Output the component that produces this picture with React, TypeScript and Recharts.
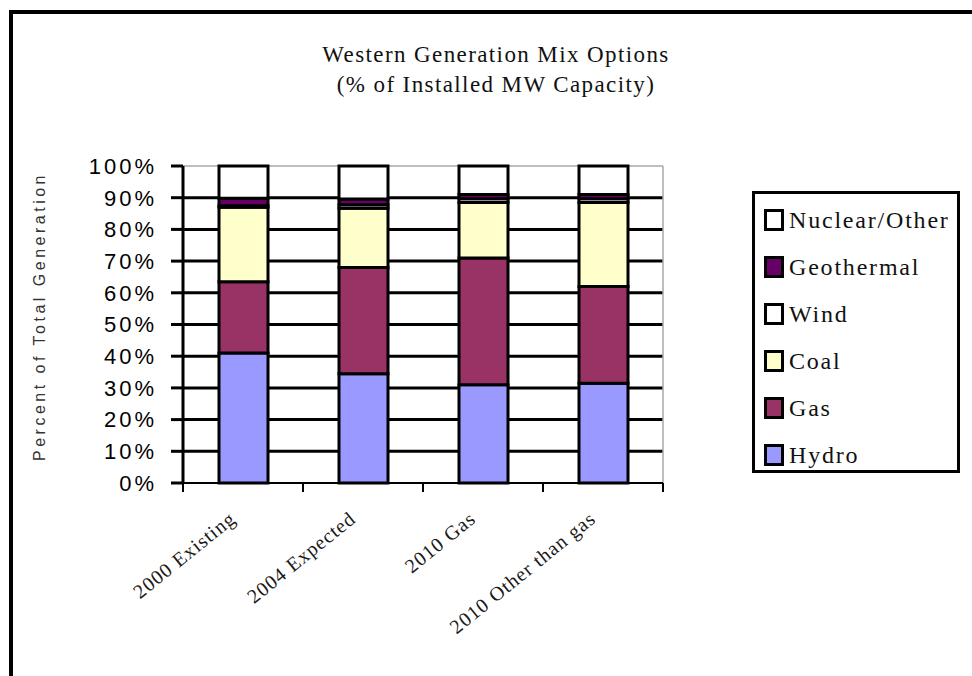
import React from 'react';
import { BarChart, Bar, XAxis, YAxis, CartesianGrid, Legend, Label } from 'recharts';

// Scenario categories along the x axis
const categories = ['2000 Existing', '2004 Expected', '2010 Gas', '2010 Other than gas'];

// Share of installed MW capacity (%) per resource, stacked bottom to top
const hydro = [41, 34.5, 31, 31.5];
const gas = [22.5, 33.5, 40, 30.5];
const coal = [23.5, 18.7, 17.5, 26.5];
const wind = [0.5, 1.1, 1.2, 1.2];
const geothermal = [2.3, 1.8, 1.3, 1.3];
const nuclearOther = [10.2, 10.4, 9, 9];

const yTicks = [0, 10, 20, 30, 40, 50, 60, 70, 80, 90, 100];
const gridValues = [10, 20, 30, 40, 50, 60, 70, 80, 90];

const series = [
  { key: 'hydro', name: 'Hydro', color: '#9999FF', values: hydro },
  { key: 'gas', name: 'Gas', color: '#993366', values: gas },
  { key: 'coal', name: 'Coal', color: '#FFFFCC', values: coal },
  { key: 'wind', name: 'Wind', color: '#FFFFFF', values: wind },
  { key: 'geothermal', name: 'Geothermal', color: '#660066', values: geothermal },
  { key: 'nuclear', name: 'Nuclear/Other', color: '#FFFFFF', values: nuclearOther },
];

const data = categories.map((category, i) => {
  const row: Record<string, string | number> = { category };
  series.forEach((s) => {
    row[s.key] = s.values[i];
  });
  return row;
});

const SERIF = '"Liberation Serif", "Times New Roman", serif';
const SANS = '"Liberation Sans", Arial, sans-serif';

// Rotated category label plus tick marks on the category boundaries
const CategoryTick = (props: any) => {
  const { x, y, payload, width, visibleTicksCount, index } = props;
  const half = width / (visibleTicksCount || 1) / 2;
  const isLast = index === (visibleTicksCount || 1) - 1;
  return (
    <g>
      <line x1={x - half} x2={x - half} y1={y} y2={y + 9} stroke="#000" strokeWidth={2} />
      {isLast && (
        <line x1={x + half} x2={x + half} y1={y} y2={y + 9} stroke="#000" strokeWidth={2} />
      )}
      <g transform={`translate(${x - 6},${y + 38}) rotate(-39)`}>
        <text
          x={0}
          y={0}
          textAnchor="end"
          fontFamily={SERIF}
          fontSize={20}
          letterSpacing={1}
          fill="#1a1a1a"
        >
          {payload.value}
        </text>
      </g>
    </g>
  );
};

const YTitle = (props: any) => {
  const vb = props.viewBox || { x: 0, y: 0, width: 0, height: 0 };
  const cx = vb.x + 45;
  const cy = vb.y + vb.height / 2 - 8;
  return (
    <text
      x={cx}
      y={cy}
      transform={`rotate(-90, ${cx}, ${cy})`}
      textAnchor="middle"
      fontFamily={SANS}
      fontSize={16}
      letterSpacing={3.5}
      fill="#333"
    >
      Percent of Total Generation
    </text>
  );
};

// Legend lists the stack from top to bottom
const LegendBox = () => {
  const items = [...series].reverse();
  return (
    <div style={{ width: 297, height: 282, position: 'relative' }}>
      <div
        style={{
          position: 'absolute',
          left: 89,
          top: 0,
          width: 208,
          height: 282,
          boxSizing: 'border-box',
          border: '3px solid #000',
          background: '#fff',
          paddingTop: 2,
        }}
      >
        {items.map((item) => (
          <div
            key={item.key}
            style={{ height: 47, display: 'flex', alignItems: 'center', paddingLeft: 9 }}
          >
            <span
              style={{
                display: 'inline-block',
                width: 20,
                height: 22,
                boxSizing: 'border-box',
                border: '3px solid #000',
                background: item.color,
                marginRight: 5,
              }}
            />
            <span
              style={{
                fontFamily: SERIF,
                fontSize: 24,
                letterSpacing: 1.8,
                color: '#111',
                lineHeight: '24px',
              }}
            >
              {item.name}
            </span>
          </div>
        ))}
      </div>
    </div>
  );
};

const titleStyle: React.CSSProperties = {
  position: 'absolute',
  left: 0,
  width: 992,
  textAlign: 'center',
  fontFamily: SERIF,
  fontSize: 23,
  lineHeight: '23px',
  letterSpacing: 1.4,
  color: '#111',
};

export default function App() {
  return (
    <div
      style={{
        position: 'absolute',
        left: 0,
        top: 0,
        width: 972,
        height: 676,
        overflow: 'hidden',
        background: '#fff',
      }}
    >
      <div
        style={{
          position: 'absolute',
          left: 9,
          top: 10,
          width: 1000,
          height: 700,
          boxSizing: 'border-box',
          border: '4px solid #000',
        }}
      />
      <div style={{ ...titleStyle, top: 43 }}>Western Generation Mix Options</div>
      <div style={{ ...titleStyle, top: 73 }}>(% of Installed MW Capacity)</div>
      <div style={{ position: 'absolute', left: 0, top: 0 }}>
        <BarChart
          width={972}
          height={676}
          data={data}
          margin={{ top: 166, right: 12, bottom: 0, left: 0 }}
          barSize={49}
        >
          <CartesianGrid
            vertical={false}
            horizontalValues={gridValues}
            stroke="#000"
            strokeWidth={3}
          />
          <CartesianGrid
            horizontalValues={[100]}
            verticalCoordinatesGenerator={({ offset }: any) => [offset.left + offset.width]}
            stroke="#a8a8a8"
            strokeWidth={1.5}
          />
          <XAxis
            dataKey="category"
            height={193}
            interval={0}
            tickLine={false}
            tickSize={0}
            tickMargin={0}
            axisLine={{ stroke: '#000', strokeWidth: 2 }}
            tick={<CategoryTick />}
          />
          <YAxis
            type="number"
            domain={[0, 100]}
            ticks={yTicks}
            interval={0}
            width={183}
            tickFormatter={(v: number) => `${v}%`}
            axisLine={{ stroke: '#000', strokeWidth: 3 }}
            tickLine={{ stroke: '#000', strokeWidth: 3 }}
            tickSize={12}
            tickMargin={14}
            tick={{ fill: '#000', fontSize: 22, fontFamily: SANS, letterSpacing: 3 }}
          >
            <Label content={<YTitle />} />
          </YAxis>
          {series.map((s) => (
            <Bar
              key={s.key}
              dataKey={s.key}
              name={s.name}
              stackId="mix"
              fill={s.color}
              stroke="#000"
              strokeWidth={3}
              isAnimationActive={false}
            />
          ))}
          <Legend
            layout="vertical"
            align="right"
            verticalAlign="top"
            wrapperStyle={{ top: 191, right: 12 }}
            content={<LegendBox />}
          />
        </BarChart>
      </div>
    </div>
  );
}
